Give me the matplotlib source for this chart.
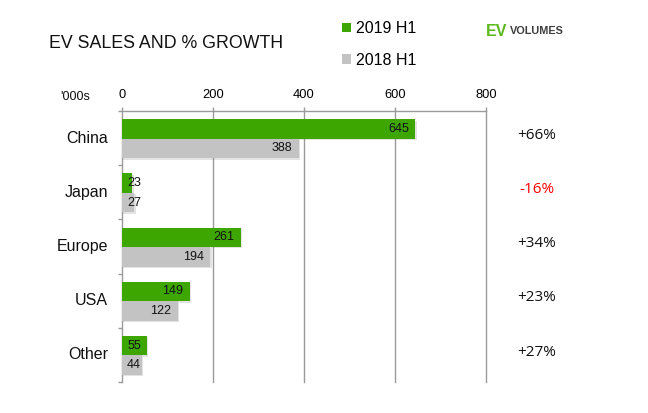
import matplotlib
matplotlib.use('Agg')
import matplotlib.pyplot as plt
import matplotlib.patheffects as pe
from matplotlib.transforms import blended_transform_factory, ScaledTranslation
import numpy as np

regions = ['China', 'Japan', 'Europe', 'USA', 'Other']
sales_2019 = [645, 23, 261, 149, 55]
sales_2018 = [388, 27, 194, 122, 44]
growth = ['+66%', '-16%', '+34%', '+23%', '+27%']
x_ticks = [0, 200, 400, 600, 800]

GREEN = '#3ea600'
GREY = '#c3c3c3'
AXIS_GREY = '#9a9a9a'

plt.rcParams['font.family'] = ['Liberation Sans', 'DejaVu Sans']

fig = plt.figure(figsize=(6.48, 4.13), dpi=100)
ax = fig.add_axes([122 / 648, 1 - 382 / 413, (486 - 122) / 648, (382 - 111) / 413])

y = np.arange(len(regions))
h = 0.36
shadow = [pe.SimplePatchShadow(offset=(1, -1), alpha=0.2, shadow_rgbFace='#777777'), pe.Normal()]
b19 = ax.barh(y - 0.17, sales_2019, height=h, color=GREEN, label='2019 H1', path_effects=shadow, zorder=3)
b18 = ax.barh(y + 0.19, sales_2018, height=h, color=GREY, label='2018 H1', path_effects=shadow, zorder=3)

for bars, vals in ((b19, sales_2019), (b18, sales_2018)):
    for bar, v in zip(bars, vals):
        yc = bar.get_y() + bar.get_height() / 2
        if v < 50:
            ax.annotate(str(v), (0, yc), xytext=(3.5, 0), textcoords='offset points',
                        ha='left', va='center', fontsize=9, color='#111111', zorder=4)
        else:
            ax.annotate(str(v), (v, yc), xytext=(-4.5, 0), textcoords='offset points',
                        ha='right', va='center', fontsize=9, color='#111111', zorder=4)

ax.set_xlim(0, 800)
ax.set_ylim(len(regions) - 0.5, -0.5)
ax.xaxis.tick_top()
ax.set_xticks(x_ticks)
ax.tick_params(axis='x', direction='out', length=3, width=1, color=AXIS_GREY,
               labelsize=9.3, pad=4)
for xv in x_ticks[1:]:
    ax.axvline(xv, color=AXIS_GREY, lw=1, zorder=1, clip_on=False)

ax.set_yticks(np.arange(len(regions) + 1) - 0.5)
ax.set_yticklabels([])
ax.tick_params(axis='y', direction='out', length=3, width=1, color=AXIS_GREY)

# category names, a fixed gap left of the axis
label_trans = ax.get_yaxis_transform() + ScaledTranslation(-0.14, 0, fig.dpi_scale_trans)
for i, r in enumerate(regions):
    ax.text(0, i, r, ha='right', va='center', fontsize=11.5, color='#111111', transform=label_trans)

for s in ('bottom', 'right'):
    ax.spines[s].set_visible(False)
for s in ('top', 'left'):
    ax.spines[s].set_color(AXIS_GREY)
    ax.spines[s].set_linewidth(1)

gtrans = blended_transform_factory(fig.transFigure, ax.transData)
for i, g in enumerate(growth):
    ax.annotate(g, (537 / 648, i), xycoords=gtrans, xytext=(0, 2), textcoords='offset points',
                ha='center', va='center', fontsize=11, family=['Open Sans', 'DejaVu Sans'],
                color='#ff0000' if g.startswith('-') else '#111111', annotation_clip=False)

fig.text(49 / 648, 1 - 43 / 413, 'EV SALES AND % GROWTH', ha='left', va='center',
         fontsize=12.8, color='#111111')
fig.text(75 / 648, 1 - 97 / 413, "'000s", ha='center', va='center', fontsize=9, color='#111111')

leg = fig.legend(handles=[b19, b18], loc='upper left', bbox_to_anchor=(342 / 648, 1 - 21 / 413),
                 frameon=False, fontsize=11.5, handlelength=0.55, handleheight=0.55,
                 handletextpad=0.3, labelspacing=1.05, borderpad=0, borderaxespad=0)
for hnd in leg.legend_handles:
    hnd.set_path_effects([])

ev = fig.text(486 / 648, 1 - 31 / 413, 'EV', ha='left', va='center', fontsize=11.5,
              fontweight='bold', color='#5cb81c')
ax.annotate('VOLUMES', xy=(1, 0), xycoords=ev, xytext=(2, 1.5), textcoords='offset points',
            ha='left', va='bottom', fontsize=7.8, fontweight='bold', color='#3d3d3d',
            annotation_clip=False)

fig.savefig('out.png', dpi=100)
